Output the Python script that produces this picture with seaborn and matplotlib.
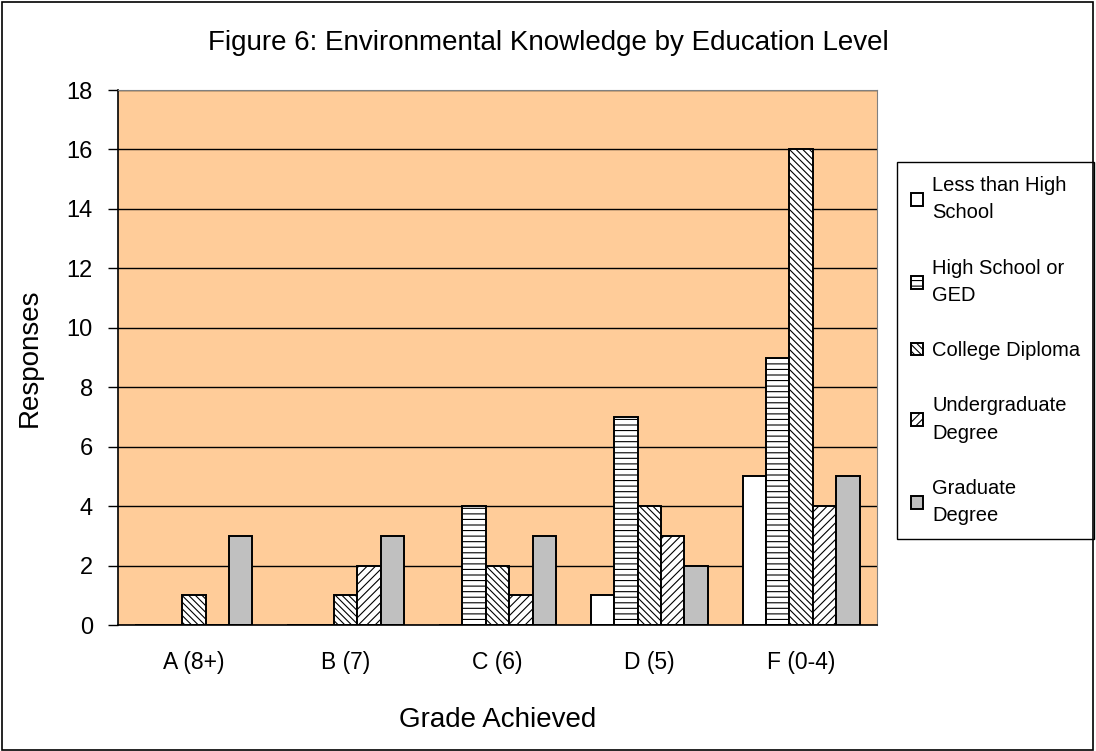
import pandas as pd
import seaborn as sns
import matplotlib.pyplot as plt
from matplotlib.patches import Rectangle

# Dados do gráfico
notas = ["A (8+)", "B (7)", "C (6)", "D (5)", "F (0-4)"]
escolaridade = ["Less than High School", "High School or GED", "College Diploma",
                "Undergraduate Degree", "Graduate Degree"]
rotulos_legenda = ["Less than High\nSchool", "High School or\nGED", "College Diploma",
                   "Undergraduate\nDegree", "Graduate\nDegree"]
menos_que_medio = [0, 0, 0, 1, 5]
ensino_medio = [0, 0, 4, 7, 9]
diploma_college = [1, 1, 2, 4, 16]
graduacao = [0, 2, 1, 3, 4]
pos_graduacao = [3, 3, 3, 2, 5]

series = [menos_que_medio, ensino_medio, diploma_college, graduacao, pos_graduacao]
linhas = []
for nome, valores in zip(escolaridade, series):
    for nota, v in zip(notas, valores):
        linhas.append({"nota": nota, "escolaridade": nome, "respostas": v})
df = pd.DataFrame(linhas)

cores = dict(zip(escolaridade, ["white", "white", "white", "white", "#C0C0C0"]))
hachuras = ["", "---", "\\\\\\\\\\", "////", ""]

sns.set_style("white")
plt.rcParams['font.family'] = ['Liberation Sans', 'DejaVu Sans']
plt.rcParams['hatch.linewidth'] = 0.8
for chave in ["text.color", "axes.labelcolor", "xtick.color", "ytick.color"]:
    plt.rcParams[chave] = "black"

fig = plt.figure(figsize=(10.96, 7.51), dpi=100)
ax = fig.add_axes([118 / 1096, 1 - 625 / 751, (877 - 118) / 1096, (625 - 90) / 751])
ax.set_facecolor("#FFCC99")

sns.barplot(data=df, x="nota", y="respostas", hue="escolaridade", palette=cores,
            edgecolor="black", linewidth=1.4, width=0.77, saturation=1,
            legend=False, ax=ax)

for cont, h in zip(ax.containers, hachuras):
    for barra in cont:
        barra.set_hatch(h)

# Eixos e grade
ax.set_ylim(0, 18)
ax.set_yticks(range(0, 19, 2))
ax.set_xlim(-0.5, 4.5)
ax.set_xticks(range(5))
ax.set_xticks([i - 0.5 for i in range(6)], minor=True)
ax.tick_params(axis="x", which="major", length=0, pad=19, labelsize=16.5)
ax.tick_params(axis="x", which="minor", length=7, width=1, color="black", direction="out")
ax.tick_params(axis="y", length=7, width=1, color="black", direction="out", pad=11,
               labelsize=17, left=True)
ax.grid(axis="y", color="black", linewidth=1)
ax.set_axisbelow(True)
for lado in ["top", "right"]:
    ax.spines[lado].set_color("#808080")
for lado in ["left", "bottom"]:
    ax.spines[lado].set_color("black")
    ax.spines[lado].set_linewidth(1.2)

ax.set_xlabel("Grade Achieved", fontsize=20)
ax.set_ylabel("Responses", fontsize=20)
ax.xaxis.set_label_coords(0.5, (625 - 707) / 535)
ax.yaxis.set_label_coords((43 - 118) / 759, 0.5)

fig.text(0.5, 1 - 50 / 751, "Figure 6: Environmental Knowledge by Education Level",
         ha="center", va="baseline", fontsize=20)

# Legenda
handles = [cont.patches[0] for cont in ax.containers]
leg = ax.legend(handles, rotulos_legenda, loc="upper left",
                bbox_to_anchor=(897 / 1096, 1 - 162 / 751), bbox_transform=fig.transFigure,
                borderaxespad=0, fontsize=14.5, frameon=True, fancybox=False,
                edgecolor="black", framealpha=1, handlelength=0.6, handleheight=0.6,
                handletextpad=0.45, borderpad=0.7, labelspacing=1.8)
leg.get_frame().set_linewidth(1)
for t in leg.get_texts():
    t.set_linespacing(1.55)

# Moldura da figura
fig.patches.append(Rectangle((2 / 1096, 1 / 751), 1091 / 1096, 748 / 751,
                             transform=fig.transFigure, fill=False,
                             edgecolor="black", linewidth=1.2))

plt.savefig("out.png", dpi=100)
plt.close()
